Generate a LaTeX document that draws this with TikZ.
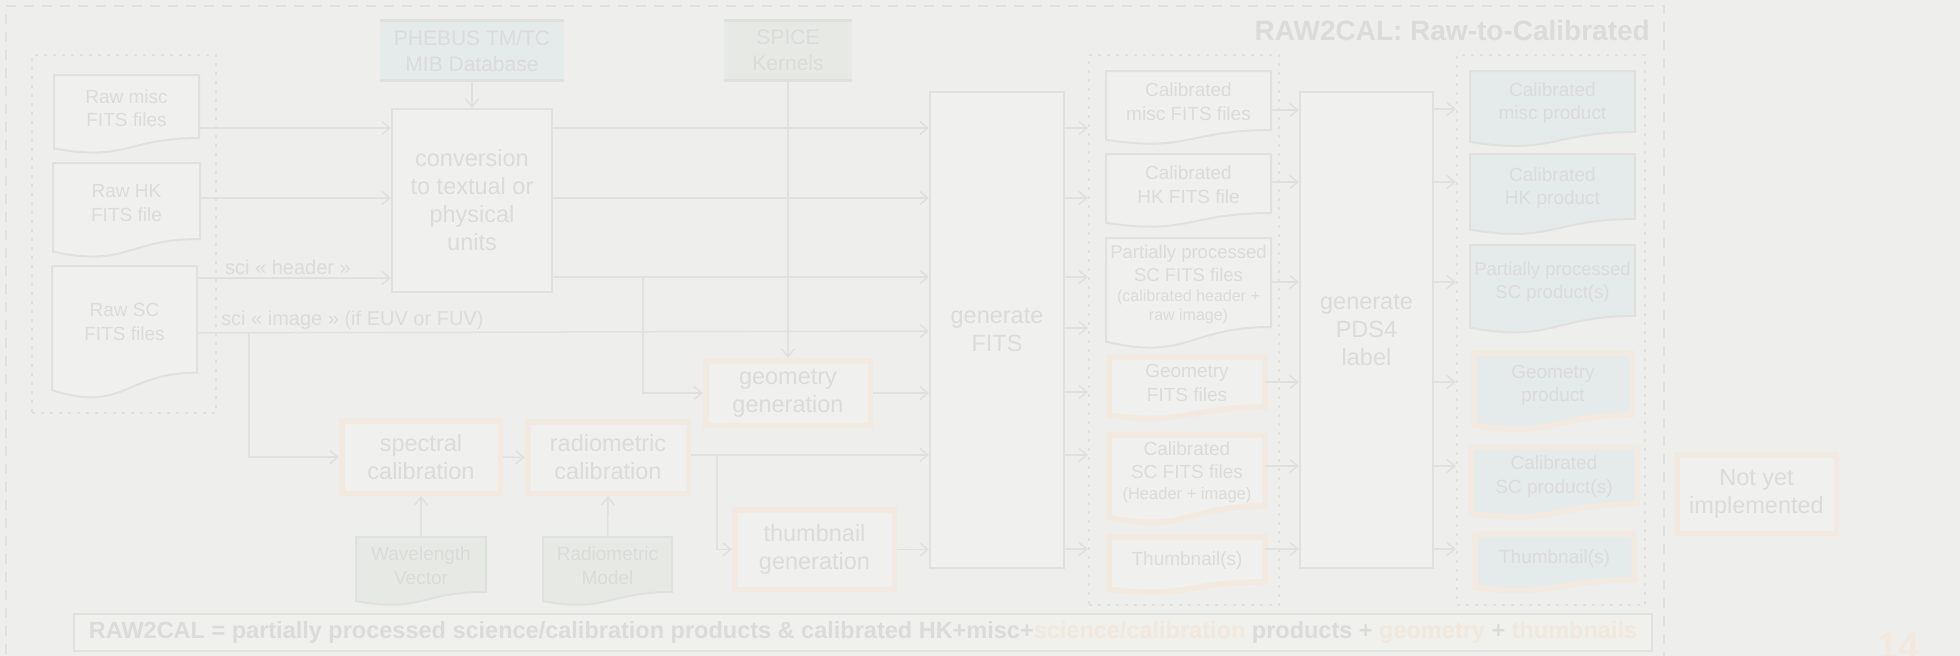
\documentclass[tikz,border=0pt]{standalone}
\usepackage{fontspec}
\setmainfont{Liberation Sans}
\usetikzlibrary{arrows.meta,calc}
\definecolor{bgc}{RGB}{238,238,237}
\definecolor{linec}{RGB}{224,224,223}
\definecolor{txtc}{RGB}{219,219,218}
\definecolor{orc}{RGB}{242,234,224}
\definecolor{ortxt}{RGB}{242,232,221}
\definecolor{bluef}{RGB}{229,234,235}
\definecolor{greenf}{RGB}{231,234,228}
\definecolor{boxf}{RGB}{240,240,239}
\definecolor{bannerf}{RGB}{240,240,237}

\newcommand\docshape[8]{%
  \pgfmathsetmacro\DSxb{#3+#5}%
  \pgfmathsetmacro\DSxm{#3+0.5*#5}%
  \pgfmathsetmacro\DSyr{#4+0.802*#6}%
  \pgfmathsetmacro\DSyc{#4+1.1075*#6}%
  \pgfmathsetmacro\DSyl{#4+0.934*#6}%
  \pgfmathsetmacro\DSyt{#4+0.42*#6}%
  \pgfmathsetmacro\DShh{0.84*#6}%
  \draw[#1] (#3,#4) -- (\DSxb,#4) -- (\DSxb,\DSyr) .. controls (\DSxm,\DSyr) and (\DSxm,\DSyc) .. (#3,\DSyl) -- cycle;
  \node[doctext,#7,minimum width=#5pt,minimum height=\DShh pt] (#2) at (\DSxm,\DSyt) {#8};
}

\begin{document}
\begin{tikzpicture}[x=1pt,y=-1pt,
  doctext/.style={text=txtc,align=center,inner sep=0pt,font=\fontsize{19}{23.5}\selectfont},
  greydoc/.style={draw=linec,line width=2pt,fill=boxf},
  bluedoc/.style={draw=linec,line width=2pt,fill=bluef},
  greendoc/.style={draw=linec,line width=2pt,fill=greenf},
  odoc/.style={draw=orc,line width=5.5pt,fill=boxf,line join=round},
  obluedoc/.style={draw=orc,line width=5.5pt,fill=bluef,line join=round},
  proc/.style={draw=linec,line width=2pt,fill=boxf,text=txtc,align=center,inner sep=0pt,font=\fontsize{23.5}{28}\selectfont},
  oproc/.style={proc,draw=orc,line width=5.5pt},
  srcbox/.style={text=txtc,align=center,inner sep=0pt,font=\fontsize{21}{26}\selectfont},
  grp/.style={draw=linec,line width=2pt,dash pattern=on 3pt off 6pt,inner sep=0pt},
  arr/.style={draw=linec,line width=1.5pt,-{Straight Barb[length=8pt,width=13pt]}},
  lbl/.style={text=txtc,inner sep=0pt,font=\fontsize{20}{24}\selectfont}
]
\path[fill=bgc] (0,0) rectangle (1960,656);
\useasboundingbox (0,0) rectangle (1960,656);

% outer frame and title
\node[draw=linec,line width=2pt,dash pattern=on 10pt off 8pt,minimum width=1658pt,minimum height=690pt,inner sep=0pt] (frame) at (835,351) {};
\node[text=txtc,font=\fontsize{28}{32}\bfseries,anchor=east,inner sep=0pt] (title) at (1650,30) {RAW2CAL: Raw-to-Calibrated};

% group boxes
\node[grp,minimum width=184pt,minimum height=358pt] (leftgrp) at (124,234) {};
\node[grp,minimum width=190pt,minimum height=550pt] (midgrp) at (1184,330) {};
\node[grp,minimum width=188pt,minimum height=550pt] (rightgrp) at (1551,330) {};

% sources
\node[srcbox,fill=bluef,minimum width=184pt,minimum height=59pt] (phebus) at (472,50.5) {PHEBUS TM/TC\\MIB Database};
\draw[linec,line width=3pt] (phebus.north west) -- (phebus.north east) (phebus.south west) -- (phebus.south east);
\node[srcbox,fill=greenf,minimum width=128pt,minimum height=59pt] (spice) at (788,50.5) {SPICE\\Kernels};
\draw[linec,line width=3pt] (spice.north west) -- (spice.north east) (spice.south west) -- (spice.south east);

% raw documents
\docshape{greydoc}{rawmisc}{54}{75}{145}{78.6}{}{Raw misc\\FITS files}
\docshape{greydoc}{rawhk}{53}{163}{147}{94.8}{}{Raw HK\\FITS file}
\docshape{greydoc}{rawsc}{52}{266}{145}{133}{}{Raw SC\\FITS files}

% process boxes
\node[proc,minimum width=160pt,minimum height=183pt] (conv) at (472,200.5) {conversion\\to textual or\\physical\\units};
\node[proc,minimum width=134pt,minimum height=476pt] (genfits) at (997,330) {generate\\FITS};
\node[proc,minimum width=133pt,minimum height=476pt] (pds) at (1366.5,330) {generate\\PDS4\\label};
\node[oproc,minimum width=164.5pt,minimum height=64.5pt] (geo) at (788,393) {geometry\\generation};
\node[oproc,minimum width=158.5pt,minimum height=72.5pt] (spec) at (421,457) {spectral\\calibration};
\node[oproc,minimum width=160.5pt,minimum height=71.5pt] (rad) at (608,457.5) {radiometric\\calibration};
\node[oproc,minimum width=159.5pt,minimum height=79.5pt] (thumb) at (814.5,549.5) {thumbnail\\generation};
\node[oproc,minimum width=159.5pt,minimum height=78.5pt] (nyi) at (1756.5,494) {Not yet\\implemented};

% calibration inputs
\docshape{greendoc}{wv}{356}{537}{130}{68.6}{}{Wavelength\\Vector}
\docshape{greendoc}{rmod}{543}{537}{129}{68.6}{}{Radiometric\\Model}

% calibrated FITS files
\docshape{greydoc}{calmisc}{1106}{71}{165}{73.6}{}{Calibrated\\misc FITS files}
\docshape{greydoc}{calhk}{1106}{154}{165}{73.6}{}{Calibrated\\HK FITS file}
\docshape{greydoc}{ppsc}{1106}{238}{165}{111}{font=\fontsize{18.5}{23}\selectfont}{Partially processed\\SC FITS files\\[-3pt]{\fontsize{16}{18.5}\selectfont (calibrated header +}\\[-4pt]{\fontsize{16}{18.5}\selectfont raw image)}}
\docshape{odoc}{geofits}{1109}{357}{156}{62.3}{}{Geometry\\FITS files}
\docshape{odoc}{calscfits}{1109}{435}{156}{88.5}{}{Calibrated\\SC FITS files\\[-3pt]{\fontsize{16.5}{19}\selectfont (Header + image)}}
\docshape{odoc}{thumbfits}{1109}{537}{156}{56}{}{Thumbnail(s)}

% products
\docshape{bluedoc}{cmp}{1470}{71}{165}{76}{}{Calibrated\\misc product}
\docshape{bluedoc}{chp}{1470}{154}{165}{81}{}{Calibrated\\HK product}
\docshape{bluedoc}{ppp}{1470}{245}{165}{88.5}{font=\fontsize{18.5}{23}\selectfont}{Partially processed\\SC product(s)}
\docshape{obluedoc}{gp}{1474}{353}{158}{77.3}{}{Geometry\\product}
\docshape{obluedoc}{csp}{1471}{447}{166}{71}{}{Calibrated\\SC product(s)}
\docshape{obluedoc}{tp}{1475}{534}{159}{57.4}{}{Thumbnail(s)}

% connectors into conversion
\draw[arr] (phebus.south) -- (conv.north);
\draw[arr] (rawmisc.east |- 0,128) -- (conv.west |- 0,128);
\draw[arr] (rawhk.east |- 0,198) -- (conv.west |- 0,198);
\draw[arr] (rawsc.east |- 0,278) -- (conv.west |- 0,278);
\node[lbl,anchor=west] (lhead) at (225,267) {sci « header »};
\draw[arr] (rawsc.east |- 0,333) -- (genfits.west |- 0,331);
\node[lbl,anchor=west] (limage) at (221,320) {sci « image » (if EUV or FUV)};

% calibration chain
\coordinate (bsc) at (249,333);
\draw[arr] (bsc) |- (spec.west);
\draw[arr] (spec.east) -- (rad.west);
\draw[arr] (wv.north) -- (spec.south);
\draw[arr] (rmod.north) -- (rad.south);
\draw[arr] (rad.east |- 0,455) -- (genfits.west |- 0,455);
\coordinate (bth) at (717,455);
\draw[arr] (bth) |- (thumb.west);
\draw[arr] (thumb.east) -- (genfits.west |- thumb.east);

% conversion outputs
\draw[arr] (conv.east |- 0,128) -- (genfits.west |- 0,128);
\draw[arr] (conv.east |- 0,198) -- (genfits.west |- 0,198);
\draw[arr] (conv.east |- 0,277) -- (genfits.west |- 0,277);
\coordinate (bgeo) at (643,277);
\draw[arr] (bgeo) |- (geo.west);
\draw[arr] (geo.east) -- (genfits.west |- geo.east);
\draw[arr] (spice.south) -- (geo.north);

% generate FITS outputs
\foreach \yy in {128,198,277,328,392,455,549}
  \draw[arr] (genfits.east |- 0,\yy) -- (midgrp.west |- 0,\yy);

% FITS files into PDS4
\draw[arr] (calmisc.east |- 0,110) -- (pds.west |- 0,110);
\draw[arr] (calhk.east |- 0,182) -- (pds.west |- 0,182);
\draw[arr] (ppsc.east |- 0,282) -- (pds.west |- 0,282);
\draw[arr] (geofits.east |- 0,382) -- (pds.west |- 0,382);
\draw[arr] (calscfits.east |- 0,466) -- (pds.west |- 0,466);
\draw[arr] (thumbfits.east |- 0,549) -- (pds.west |- 0,549);

% PDS4 outputs
\foreach \yy in {109,182,282,382,466,549}
  \draw[arr] (pds.east |- 0,\yy) -- (rightgrp.west |- 0,\yy);

% banner
\node[draw=linec,line width=2pt,fill=bannerf,minimum width=1578pt,minimum height=37pt,inner sep=0pt,text=txtc,font=\fontsize{23.5}{26}\bfseries] (banner) at (863,632.5)
  {RAW2CAL = partially processed science/calibration products \& calibrated HK+misc+\textcolor{ortxt}{science/calibration} products + \textcolor{ortxt}{geometry} + \textcolor{ortxt}{thumbnails}};

% page number (cut by the lower edge, as in the slide)
\node[text=ortxt,font=\fontsize{38}{40}\bfseries,anchor=base east,inner sep=0pt] (pagenum) at (1920,659) {14};
\end{tikzpicture}
\end{document}
